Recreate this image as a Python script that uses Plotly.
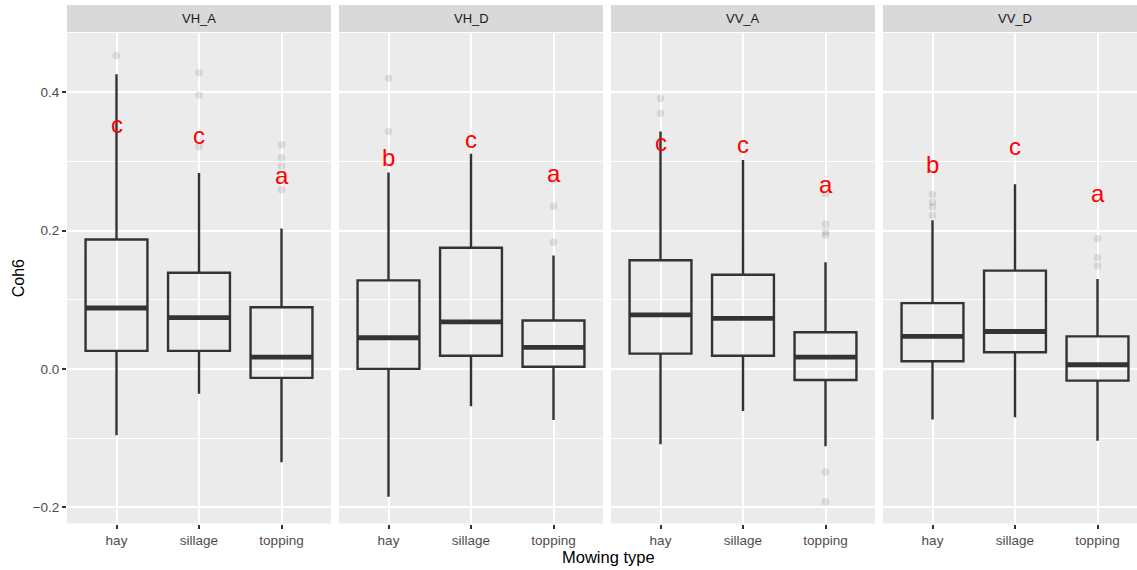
import plotly.graph_objects as go

# ---------------- data ----------------
facets = ["VH_A", "VH_D", "VV_A", "VV_D"]
mowing_types = ["hay", "sillage", "topping"]

lower_whisker = {
    "VH_A": [-0.096, -0.036, -0.135],
    "VH_D": [-0.185, -0.054, -0.074],
    "VV_A": [-0.109, -0.061, -0.112],
    "VV_D": [-0.073, -0.070, -0.104],
}
q1_values = {
    "VH_A": [0.026, 0.026, -0.013],
    "VH_D": [0.000, 0.019, 0.003],
    "VV_A": [0.022, 0.019, -0.016],
    "VV_D": [0.011, 0.024, -0.017],
}
median_values = {
    "VH_A": [0.088, 0.074, 0.017],
    "VH_D": [0.045, 0.068, 0.031],
    "VV_A": [0.078, 0.073, 0.017],
    "VV_D": [0.047, 0.054, 0.006],
}
q3_values = {
    "VH_A": [0.187, 0.139, 0.089],
    "VH_D": [0.128, 0.175, 0.070],
    "VV_A": [0.157, 0.136, 0.053],
    "VV_D": [0.095, 0.142, 0.047],
}
upper_whisker = {
    "VH_A": [0.426, 0.283, 0.203],
    "VH_D": [0.284, 0.311, 0.164],
    "VV_A": [0.343, 0.302, 0.154],
    "VV_D": [0.215, 0.267, 0.130],
}
outlier_values = {
    "VH_A": [[0.453], [0.428, 0.396, 0.321], [0.324, 0.305, 0.293, 0.259]],
    "VH_D": [[0.420, 0.343], [], [0.273, 0.235, 0.183]],
    "VV_A": [[0.391, 0.369], [], [0.253, 0.209, 0.198, 0.193, -0.149, -0.192]],
    "VV_D": [[0.252, 0.241, 0.234, 0.222], [], [0.188, 0.161, 0.149]],
}
letters = {
    "VH_A": ["c", "c", "a"],
    "VH_D": ["b", "c", "a"],
    "VV_A": ["c", "c", "a"],
    "VV_D": ["b", "c", "a"],
}
letter_y = {
    "VH_A": [0.353, 0.338, 0.279],
    "VH_D": [0.305, 0.332, 0.283],
    "VV_A": [0.327, 0.324, 0.266],
    "VV_D": [0.295, 0.321, 0.253],
}
y_ticks = [-0.2, 0.0, 0.2, 0.4]
y_tick_labels = ["\u22120.2", "0.0", "0.2", "0.4"]

# ---------------- layout geometry (pixels) ----------------
W, H = 1137, 570
FONT = "Liberation Sans, Arial, sans-serif"
panel_left0, panel_step, panel_w = 67, 272, 264
plot_top, plot_bot = 33, 523.5
strip_top, strip_bot = 5, 32
box_width = 0.75
xr = [0.4, 3.6]
yr = [-0.2235, 0.4855]

fig = go.Figure()
layout = dict(
    width=W, height=H,
    margin=dict(l=0, r=0, t=0, b=0),
    paper_bgcolor="white",
    plot_bgcolor="#EBEBEB",
    showlegend=False,
    font=dict(family=FONT, color="#4D4D4D"),
)
shapes = []
annotations = []

xpos = list(range(1, len(mowing_types) + 1))

for i, fac in enumerate(facets):
    sfx = "" if i == 0 else str(i + 1)
    xa, ya = "x" + sfx, "y" + sfx
    left = panel_left0 + panel_step * i
    right_full = left + panel_w
    right = min(right_full, W)
    # range shrunk when panel is cropped by the figure edge
    x_hi = xr[0] + (right - left) / panel_w * (xr[1] - xr[0])
    dom_x = [left / W, right / W]
    dom_y = [1 - plot_bot / H, 1 - plot_top / H]

    layout["xaxis" + sfx] = dict(
        domain=dom_x, range=[xr[0], x_hi], anchor=ya,
        tickvals=xpos, ticktext=mowing_types,
        showgrid=True, gridcolor="white", gridwidth=2,
        ticks="outside", ticklen=4, tickwidth=1.5, tickcolor="#333333",
        tickfont=dict(size=13.5, color="#4D4D4D", family=FONT),
        zeroline=False, showline=False, fixedrange=True,
    )
    ydict = dict(
        domain=dom_y, range=yr, anchor=xa,
        tickvals=y_ticks, ticktext=y_tick_labels,
        showgrid=True, gridcolor="white", gridwidth=2,
        minor=dict(dtick=0.1, tick0=0.1, showgrid=True, gridcolor="white", gridwidth=0.8, ticks=""),
        zeroline=False, showline=False,
    )
    if i == 0:
        ydict.update(ticks="outside", ticklen=4, tickwidth=1.5, tickcolor="#333333",
                     tickfont=dict(size=13.5, color="#4D4D4D", family=FONT))
    else:
        ydict.update(ticks="", showticklabels=False, matches="y")
    layout["yaxis" + sfx] = ydict

    # strip
    shapes.append(dict(type="rect", xref="paper", yref="paper",
                       x0=left / W, x1=right / W,
                       y0=1 - strip_bot / H, y1=1 - strip_top / H,
                       fillcolor="#D9D9D9", line=dict(width=0), layer="below"))
    annotations.append(dict(text=fac, xref="paper", yref="paper",
                            x=(left + right_full) / 2 / W, y=1 - (strip_top + strip_bot) / 2 / H,
                            xanchor="center", yanchor="middle", showarrow=False,
                            font=dict(size=13, color="#1A1A1A", family=FONT)))

    for j, mt in enumerate(mowing_types):
        x = xpos[j]
        fig.add_trace(go.Box(
            x=[x], q1=[q1_values[fac][j]], median=[median_values[fac][j]],
            q3=[q3_values[fac][j]], lowerfence=[lower_whisker[fac][j]],
            upperfence=[upper_whisker[fac][j]],
            width=box_width, whiskerwidth=0,
            fillcolor="rgba(0,0,0,0)", line=dict(color="#333333", width=2.4),
            boxpoints=False, xaxis=xa, yaxis=ya, hoverinfo="skip",
        ))
        # thicker median line (ggplot style)
        fig.add_trace(go.Scatter(
            x=[x - box_width / 2, x + box_width / 2],
            y=[median_values[fac][j]] * 2,
            mode="lines", line=dict(color="#333333", width=4.8),
            xaxis=xa, yaxis=ya, hoverinfo="skip",
        ))
        outs = outlier_values[fac][j]
        if outs:
            fig.add_trace(go.Scatter(
                x=[x] * len(outs), y=outs, mode="markers",
                marker=dict(color="rgba(0,0,0,0.1)", size=7.5, line=dict(width=0)),
                xaxis=xa, yaxis=ya, hoverinfo="skip",
            ))
        annotations.append(dict(text=letters[fac][j], x=x, y=letter_y[fac][j],
                                xref=xa, yref=ya, xanchor="center", yanchor="middle",
                                showarrow=False,
                                font=dict(size=24, color="red", family=FONT)))

# axis titles
annotations.append(dict(text="Mowing type", xref="paper", yref="paper",
                        x=608 / W, y=1 - 557 / H, xanchor="center", yanchor="middle",
                        showarrow=False, font=dict(size=16.5, color="black", family=FONT)))
annotations.append(dict(text="Coh6", xref="paper", yref="paper",
                        x=18 / W, y=1 - (plot_top + plot_bot) / 2 / H, xanchor="center",
                        yanchor="middle", textangle=-90, showarrow=False,
                        font=dict(size=16, color="black", family=FONT)))

layout["shapes"] = shapes
layout["annotations"] = annotations
fig.update_layout(**layout)
fig.write_html(
    "out.html",
    config={"displayModeBar": False},
    post_script="document.body.style.margin='0';document.body.style.overflow='hidden';",
)
